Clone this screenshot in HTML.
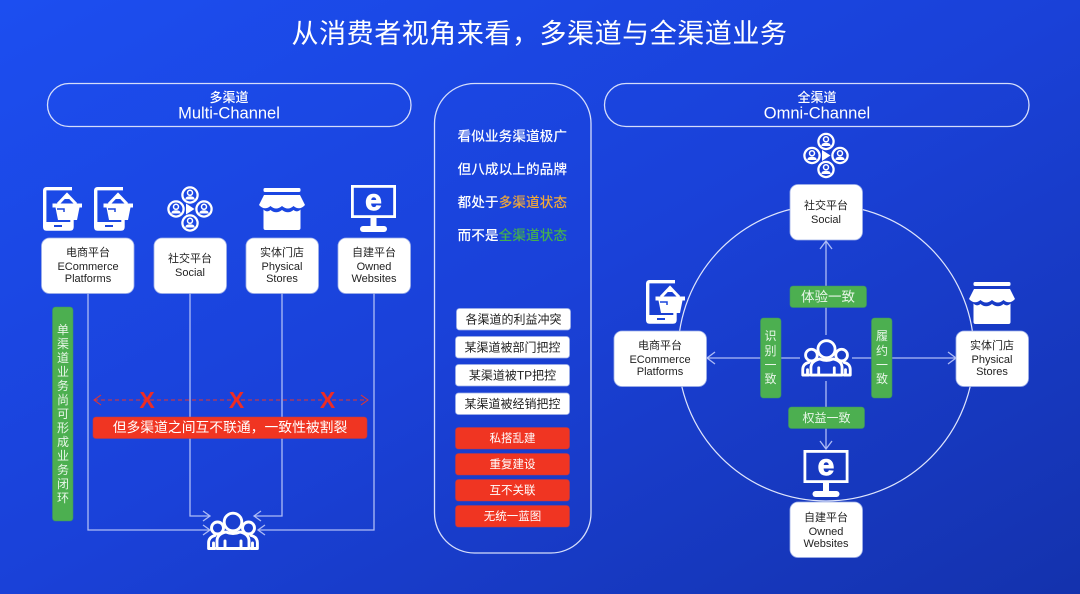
<!DOCTYPE html>
<html><head><meta charset="utf-8">
<style>
html,body{margin:0;padding:0;width:1080px;height:594px;overflow:hidden;background:#1a40d8}
svg{display:block}
text{font-family:"Liberation Sans","Noto Sans CJK SC",sans-serif}
.k{fill:#222;font-size:11px;text-anchor:middle}
.w{fill:#fff;text-anchor:middle}
.card{fill:#fff;stroke:#9fb0e8;stroke-width:.8}
.ln{fill:none;stroke:#aebcf6;stroke-width:1.3}
.hd{fill:none;stroke:#d5ddfb;stroke-width:1.3}
.g{fill:#4caf50;stroke:#3c8f6a;stroke-width:.6}
.r{fill:#f03522;stroke:#b83a4a;stroke-width:.6}
.v{fill:#e8f6e8;font-size:12px;text-anchor:middle}
.s{font-size:12px;text-anchor:middle}
</style></head><body>
<svg width="1080" height="594" viewBox="0 0 1080 594" xmlns="http://www.w3.org/2000/svg">
<defs>
<linearGradient id="bg" x1="0" y1="0" x2="1" y2="1">
<stop offset="0" stop-color="#1c4ef0"/><stop offset=".5" stop-color="#1a41d8"/><stop offset="1" stop-color="#1432ad"/>
</linearGradient>
<symbol id="tab" viewBox="0 0 40 44" overflow="visible">
<path d="M29 1.700H3.500Q1.700 1.700 1.700 3.500V40Q1.700 42 3.500 42H27Q29 42 29 40V33" fill="none" stroke="#fff" stroke-width="3.400"/>
<rect x="2" y="35" width="26" height="8" fill="#fff"/>
<rect x="11" y="38" width="8" height="2" fill="#1a45dc"/>
<path d="M9.500 16.500H39V20.500H36.500L34 33H15L12.500 20.500H9.500Z" fill="#fff"/>
<path d="M15 17L24 7.500L33 17" fill="none" stroke="#fff" stroke-width="3"/>
<path d="M20.500 10.500H27.500" stroke="#fff" stroke-width="3"/>
<path d="M14 22H21V25" fill="none" stroke="#1a45dc" stroke-width="1.500"/>
</symbol>
<symbol id="per" viewBox="0 0 18 18" overflow="visible">
<circle cx="9" cy="9" r="7.600" fill="none" stroke="#fff" stroke-width="2.300"/>
<circle cx="9" cy="6.800" r="2.500" fill="none" stroke="#fff" stroke-width="1.500"/>
<path d="M4.300 13.500Q4.300 10.300 9 10.300Q13.700 10.300 13.700 13.500Z" fill="#fff"/>
</symbol>
<symbol id="net" viewBox="0 0 46 46" overflow="visible">
<use href="#per" x="14" y="0" width="18" height="18"/>
<use href="#per" x="0" y="14" width="18" height="18"/>
<use href="#per" x="28" y="14" width="18" height="18"/>
<use href="#per" x="14" y="28" width="18" height="18"/>
<path d="M19 17.500L27.500 23L19 28.500Z" fill="#fff"/>
</symbol>
<symbol id="store" viewBox="0 0 46 42" overflow="visible">
<rect x="4.500" y="0" width="37" height="4" rx="1.500" fill="#fff"/>
<path d="M5 7H41L46 17Q40.500 23 34.500 18Q29 23 23 18Q17 23 11.500 18Q5.500 23 0 17Z" fill="#fff"/>
<path d="M4.500 21.500Q8 25 11.500 22Q17 26.500 23 22Q29 26.500 34.500 22Q38 25 41.500 21.500V40Q41.500 42 39.500 42H6.500Q4.500 42 4.500 40Z" fill="#fff"/>
</symbol>
<symbol id="mon" viewBox="0 0 45 47" overflow="visible">
<rect x="1.400" y="1.400" width="42.200" height="30.200" fill="none" stroke="#fff" stroke-width="2.800"/>
<rect x="19.500" y="32" width="6" height="10" fill="#fff"/>
<rect x="9" y="41" width="27" height="6" rx="3" fill="#fff"/>
<text x="22.500" y="25" fill="#fff" stroke="#fff" stroke-width=".9" font-size="30" font-weight="700" text-anchor="middle">e</text>
</symbol>
<symbol id="ppl" viewBox="0 0 52 38" overflow="visible">
<g fill="none" stroke="#fff" stroke-width="2.900" stroke-linejoin="round" stroke-linecap="round">
<circle cx="10.500" cy="16" r="6"/>
<circle cx="41.500" cy="16" r="6"/>
<path d="M8 36.500H1.600V31Q1.600 25 8 23.500M44 36.500H50.400V31Q50.400 25 44 23.500"/>
<path d="M6.500 36V31M45.500 36V31"/>
<circle cx="26" cy="10" r="8.800" fill="#1a3fd0"/>
<path d="M10 36.500V29Q10 22 19 20Q26 23 33 20Q42 22 42 29V36.500Z" fill="#1a3fd0"/>
<path d="M18 36V29M34 36V29"/>
</g>
</symbol>
</defs>
<rect width="1080" height="594" fill="url(#bg)"/>

<text x="539.500" y="43" class="w" font-size="27" letter-spacing=".55">从消费者视角来看，多渠道与全渠道业务</text>

<!-- headers -->
<rect x="47.500" y="83.500" width="363.500" height="43" rx="21.500" class="hd"/>
<text x="229" y="102" class="w" font-size="13" font-weight="500">多渠道</text>
<text x="229" y="118.500" class="w" font-size="16.500">Multi-Channel</text>
<rect x="604.500" y="83.500" width="424.500" height="43" rx="21.500" class="hd"/>
<text x="817" y="102" class="w" font-size="13" font-weight="500">全渠道</text>
<text x="817" y="118.500" class="w" font-size="16.500">Omni-Channel</text>
<rect x="434.500" y="83.500" width="156.500" height="469.500" rx="40" class="hd"/>

<!-- left connectors -->
<path class="ln" d="M88 293V530H209M190 293V516H209M282 293V516H255M374 293V530H258"/>
<path class="ln" d="M203 511L210 516L203 521M203 525L210 530L203 535M261 511L254 516L261 521M265 525L258 530L265 535"/>

<!-- left icons -->
<use href="#tab" x="43" y="187" width="40" height="44"/>
<use href="#tab" x="94" y="187" width="40" height="44"/>
<use href="#net" x="167" y="186" width="46" height="46"/>
<use href="#store" x="259" y="188" width="46" height="42"/>
<use href="#mon" x="351" y="185" width="45" height="47"/>

<!-- left cards -->
<rect x="41.500" y="238" width="92.500" height="55.500" rx="8" class="card"/>
<text x="88" y="256" class="k">电商平台</text><text x="88" y="270" class="k">ECommerce</text><text x="88" y="282" class="k">Platforms</text>
<rect x="154" y="238" width="72.500" height="55.500" rx="8" class="card"/>
<text x="190" y="262" class="k">社交平台</text><text x="190" y="276" class="k">Social</text>
<rect x="246" y="238" width="72.500" height="55.500" rx="8" class="card"/>
<text x="282" y="256" class="k">实体门店</text><text x="282" y="270" class="k">Physical</text><text x="282" y="282" class="k">Stores</text>
<rect x="338" y="238" width="72.500" height="55.500" rx="8" class="card"/>
<text x="374" y="256" class="k">自建平台</text><text x="374" y="270" class="k">Owned</text><text x="374" y="282" class="k">Websites</text>

<!-- left green -->
<rect x="52.500" y="307" width="20.500" height="214" rx="3" class="g"/>
<g class="v" font-size="12">
<text x="63" y="334">单</text><text x="63" y="348">渠</text><text x="63" y="362">道</text><text x="63" y="376">业</text><text x="63" y="390">务</text><text x="63" y="404">尚</text><text x="63" y="418">可</text><text x="63" y="432">形</text><text x="63" y="446">成</text><text x="63" y="460">业</text><text x="63" y="474">务</text><text x="63" y="488">闭</text><text x="63" y="502">环</text>
</g>

<!-- dashed -->
<path d="M94 400H368" stroke="#e8352a" stroke-width="1" stroke-dasharray="4 3" fill="none"/>
<path d="M101 395L94 400L101 405M361 395L368 400L361 405" stroke="#e8352a" stroke-width="1" fill="none"/>
<g fill="#ee2b25" font-size="23" font-weight="700" text-anchor="middle">
<text x="147" y="408">X</text><text x="236.500" y="408">X</text><text x="327.500" y="408">X</text>
</g>
<rect x="93" y="417" width="274" height="21.500" rx="3" class="r"/>
<text x="230" y="432" class="w" font-size="13.800">但多渠道之间互不联通，一致性被割裂</text>

<use href="#ppl" x="207" y="512" width="52" height="38"/>

<!-- center text -->
<g font-size="13.700" font-weight="500" fill="#fff">
<text x="457.500" y="141">看似业务渠道极广</text>
<text x="457.500" y="174">但八成以上的品牌</text>
<text x="457.500" y="207">都处于<tspan fill="#f0a83a">多渠道状态</tspan></text>
<text x="457.500" y="240">而不是<tspan fill="#44b04e">全渠道状态</tspan></text>
</g>
<rect x="456.500" y="308.500" width="114" height="21.500" rx="3" class="card"/>
<text x="513.500" y="323.500" class="k s" fill="#222">各渠道的利益冲突</text>
<rect x="455.500" y="336.500" width="114" height="21.500" rx="3" class="card"/>
<text x="512.500" y="351.500" class="k s">某渠道被部门把控</text>
<rect x="455.500" y="364.500" width="114" height="21.500" rx="3" class="card"/>
<text x="512.500" y="379.500" class="k s">某渠道被TP把控</text>
<rect x="455.500" y="393" width="114" height="21.500" rx="3" class="card"/>
<text x="512.500" y="408" class="k s">某渠道被经销把控</text>
<rect x="455.500" y="427.500" width="114" height="21.500" rx="3" class="r"/>
<text x="512.500" y="442" class="w s" style="font-size:11.500px">私搭乱建</text>
<rect x="455.500" y="453.500" width="114" height="21.500" rx="3" class="r"/>
<text x="512.500" y="468" class="w s" style="font-size:11.500px">重复建设</text>
<rect x="455.500" y="479.500" width="114" height="21.500" rx="3" class="r"/>
<text x="512.500" y="494" class="w s" style="font-size:11.500px">互不关联</text>
<rect x="455.500" y="505.500" width="114" height="21.500" rx="3" class="r"/>
<text x="512.500" y="520" class="w s" style="font-size:11.500px">无统一蓝图</text>

<!-- right -->
<circle cx="826" cy="353" r="148" fill="none" stroke="#dfe5fc" stroke-width="1.200"/>
<path class="ln" d="M826 335V242M820 249L826 241L832 249M826 381V448M820 441L826 449L832 441M800 358H708M715 352L707 358L715 364M852 358H955M948 352L956 358L948 364"/>

<use href="#net" x="803" y="132.500" width="46" height="46"/>
<use href="#tab" x="646" y="280" width="40" height="44"/>
<use href="#store" x="969" y="282" width="46" height="42"/>
<use href="#mon" x="803.500" y="450" width="45" height="47"/>
<use href="#ppl" x="800.500" y="339.500" width="52" height="37"/>

<rect x="790" y="184.500" width="72.500" height="55.500" rx="8" class="card"/>
<text x="826" y="209" class="k">社交平台</text><text x="826" y="223" class="k">Social</text>
<rect x="614" y="331" width="92.500" height="55.500" rx="8" class="card"/>
<text x="660" y="349" class="k">电商平台</text><text x="660" y="363" class="k">ECommerce</text><text x="660" y="375" class="k">Platforms</text>
<rect x="956" y="331" width="72.500" height="55.500" rx="8" class="card"/>
<text x="992" y="349" class="k">实体门店</text><text x="992" y="363" class="k">Physical</text><text x="992" y="375" class="k">Stores</text>
<rect x="790" y="502" width="72.500" height="55.500" rx="8" class="card"/>
<text x="826" y="521" class="k">自建平台</text><text x="826" y="535" class="k">Owned</text><text x="826" y="547" class="k">Websites</text>

<rect x="790" y="286" width="76.500" height="21.500" rx="3" class="g"/>
<text x="828" y="301.500" class="v" style="font-size:13.500px">体验一致</text>
<rect x="788.500" y="407" width="76" height="21.500" rx="3" class="g"/>
<text x="826.500" y="422" class="v">权益一致</text>
<rect x="760.500" y="318" width="20.500" height="80" rx="3" class="g"/>
<g class="v"><text x="770.500" y="340">识</text><text x="770.500" y="355">别</text><text x="770.500" y="369">一</text><text x="770.500" y="383">致</text></g>
<rect x="871.500" y="318" width="20.500" height="80" rx="3" class="g"/>
<g class="v"><text x="882" y="340">履</text><text x="882" y="355">约</text><text x="882" y="369">一</text><text x="882" y="383">致</text></g>
</svg>
</body></html>
